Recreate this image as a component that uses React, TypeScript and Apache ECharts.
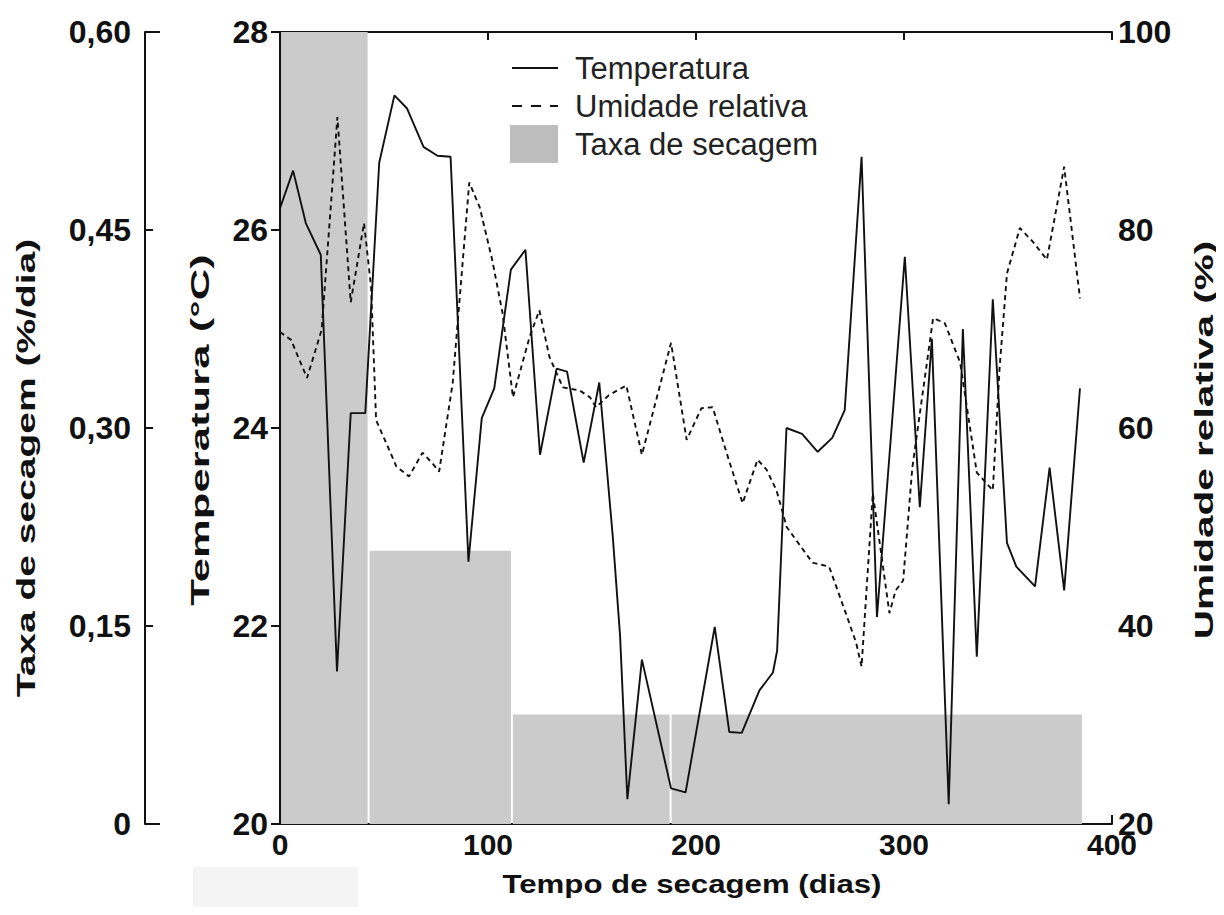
import React, { useEffect, useRef } from "react";
import * as echarts from "echarts";

// ---- Data ----
const xTicks = [0, 100, 200, 300, 400];

const tempDays = [0, 6.3, 12.4, 19.6, 27.4, 34, 41, 47.7, 55, 61, 69, 75.7, 82, 90.6, 97, 103, 111, 118, 125, 133, 138, 146, 153.5, 160, 163.5, 167, 174, 188, 195, 209, 216, 222, 230.5, 237, 239, 243.5, 251, 258.5, 265.5, 271.5, 279.6, 287, 300.4, 307.6, 313.4, 321.5, 328.3, 335, 342.7, 349.5, 354, 363, 370, 377, 384.6];
const tempValues = [26.22, 26.6, 26.07, 25.75, 21.54, 24.15, 24.15, 26.68, 27.36, 27.23, 26.84, 26.75, 26.74, 22.65, 24.1, 24.4, 25.6, 25.8, 23.73, 24.6, 24.57, 23.65, 24.46, 22.9, 21.9, 20.25, 21.66, 20.36, 20.32, 21.99, 20.93, 20.92, 21.35, 21.53, 21.75, 24.0, 23.94, 23.76, 23.9, 24.18, 26.74, 22.09, 25.73, 23.2, 24.9, 20.2, 25.0, 21.69, 25.3, 22.84, 22.6, 22.4, 23.6, 22.36, 24.4];

const humDays = [0, 5.3, 13, 20, 27.6, 34, 40.4, 43.8, 46.2, 52.5, 56, 62, 68.5, 73, 76.5, 83, 91, 96, 102, 107, 112, 120, 124.7, 129.5, 136, 144, 149, 152, 158, 166.5, 174, 188, 195.5, 202.6, 208, 214.7, 222.4, 229.6, 233.9, 238.7, 243.6, 256, 264, 272, 277, 279.6, 285, 293, 296, 299.6, 304, 314, 319.6, 327, 335, 342.7, 346, 349.5, 355.7, 362, 368.7, 377, 384.6];
const humValues = [69.7, 68.9, 65.05, 69.9, 91.4, 72.7, 80.7, 74.2, 60.8, 57.8, 56.1, 55.1, 57.5, 56.5, 55.6, 64.5, 84.8, 82.3, 77, 71.6, 63.1, 69.2, 71.9, 67.2, 64.1, 63.8, 63.1, 62.1, 63.3, 64.3, 57.3, 68.6, 58.8, 62, 62.1, 57.5, 52.4, 56.8, 55.8, 53.7, 50, 46.4, 46, 41.3, 38.3, 35.9, 53.4, 41.3, 43.6, 44.6, 56, 71.1, 70.6, 66.6, 55.5, 53.7, 66.2, 75.6, 80.2, 78.8, 77, 86.4, 73.1];

const rateStart = [0, 42.6, 111.5, 187.8];
const rateEnd = [42.6, 111.5, 187.8, 386];
const rateValues = [0.6, 0.207, 0.083, 0.083];

const FONT = '"Liberation Sans", Arial, sans-serif';
const INK = "#111";

export default function App() {
  const ref = useRef<HTMLDivElement>(null);

  useEffect(() => {
    if (!ref.current) return;
    const chart = echarts.init(ref.current, null, { renderer: "svg" });

    const tempData = tempDays.map((d, i) => [d, tempValues[i]]);
    const humData = humDays.map((d, i) => [d, humValues[i]]);
    const rateData = rateStart.map((s, i) => [s, rateEnd[i], rateValues[i]]);

    const axisLine = { show: true, lineStyle: { color: INK, width: 2 } };
    const tickLabel = { color: INK, fontFamily: FONT, fontWeight: "bold", fontSize: 32 };

    const titleText = (text: string, x: number, y: number, sx: number, rotate: boolean) => ({
      type: "text",
      x,
      y,
      rotation: rotate ? Math.PI / 2 : 0,
      scaleX: sx,
      scaleY: 1,
      silent: true,
      style: {
        text,
        fill: INK,
        font: `bold 26px ${FONT}`,
        fontFamily: FONT,
        fontWeight: "bold",
        fontSize: 26,
        align: "center",
        verticalAlign: "middle",
        textAlign: "center",
        textVerticalAlign: "middle",
      },
    });

    // legend geometry (icons for the two line items are drawn as graphic lines)
    const legLeft = 505;
    const legTop = 44;
    const legPad = 5;
    const itemW = 48;
    const itemH = 38;
    const rowY = (i: number) => legTop + legPad + itemH / 2 + i * itemH;

    const option: any = {
      animation: false,
      backgroundColor: "#ffffff",
      textStyle: { fontFamily: FONT },
      grid: { left: 280, right: 112, top: 32, bottom: 91, containLabel: false },
      legend: {
        show: true,
        orient: "vertical",
        left: legLeft,
        top: legTop,
        padding: legPad,
        itemWidth: itemW,
        itemHeight: itemH,
        itemGap: 0,
        selectedMode: false,
        textStyle: { fontSize: 31, color: "#222", fontFamily: FONT, padding: [0, 0, 0, 12] },
        data: [
          { name: "Temperatura", icon: "rect", itemStyle: { color: "rgba(0,0,0,0)", borderWidth: 0 } },
          { name: "Umidade relativa", icon: "rect", itemStyle: { color: "rgba(0,0,0,0)", borderWidth: 0 } },
          { name: "Taxa de secagem", icon: "rect", itemStyle: { color: "#bdbdbd", borderWidth: 0 } },
        ],
      },
      xAxis: [
        {
          type: "value",
          position: "bottom",
          min: xTicks[0],
          max: xTicks[xTicks.length - 1],
          interval: 100,
          axisLine,
          axisTick: { show: true, inside: true, length: 9, lineStyle: { color: INK, width: 2 } },
          axisLabel: { ...tickLabel, fontSize: 30, margin: 5 },
          splitLine: { show: false },
        },
        {
          type: "value",
          position: "top",
          min: xTicks[0],
          max: xTicks[xTicks.length - 1],
          interval: 100,
          axisLine,
          axisTick: { show: true, inside: true, length: 8, lineStyle: { color: INK, width: 2 } },
          axisLabel: { show: false },
          splitLine: { show: false },
        },
      ],
      yAxis: [
        {
          type: "value",
          position: "left",
          min: 20,
          max: 28,
          interval: 2,
          axisLine,
          axisTick: { show: true, inside: true, length: 9, lineStyle: { color: INK, width: 2 } },
          axisLabel: { ...tickLabel, margin: 12 },
          splitLine: { show: false },
        },
        {
          type: "value",
          position: "right",
          min: 20,
          max: 100,
          interval: 20,
          axisLine,
          axisTick: { show: true, inside: true, length: 9, lineStyle: { color: INK, width: 2 } },
          axisLabel: { ...tickLabel, margin: 6 },
          splitLine: { show: false },
        },
        {
          type: "value",
          position: "left",
          offset: 135,
          min: 0,
          max: 0.6,
          interval: 0.15,
          axisLine,
          axisTick: { show: true, inside: true, length: 8, lineStyle: { color: INK, width: 2 } },
          axisLabel: {
            ...tickLabel,
            margin: 14,
            formatter: (v: number) => (v === 0 ? "0" : v.toFixed(2).replace(".", ",")),
          },
          splitLine: { show: false },
        },
      ],
      graphic: [
        {
          type: "rect",
          left: 193,
          top: 867,
          shape: { width: 165, height: 45 },
          style: { fill: "#f4f4f4" },
          silent: true,
        },
        { type: "line", shape: { x1: 145, y1: 32, x2: 160, y2: 32 }, style: { stroke: INK, lineWidth: 2 }, silent: true },
        { type: "line", shape: { x1: 145, y1: 824, x2: 160, y2: 824 }, style: { stroke: INK, lineWidth: 2 }, silent: true },
        {
          type: "line",
          silent: true,
          z: 100,
          shape: { x1: legLeft + legPad + 2, y1: rowY(0), x2: legLeft + legPad + itemW, y2: rowY(0) },
          style: { stroke: INK, lineWidth: 2 },
        },
        {
          type: "line",
          silent: true,
          z: 100,
          shape: { x1: legLeft + legPad + 2, y1: rowY(1), x2: legLeft + legPad + itemW, y2: rowY(1) },
          style: { stroke: INK, lineWidth: 2, lineDash: [10, 9] },
        },
        titleText("Taxa de secagem (%/dia)", 26, 468, 1.5, true),
        titleText("Temperatura (°C)", 200, 430, 1.68, true),
        titleText("Umidade relativa (%)", 1204, 440, 1.56, true),
        titleText("Tempo de secagem (dias)", 692, 884, 1.2, false),
      ],
      series: [
        {
          name: "Taxa de secagem",
          type: "custom",
          xAxisIndex: 0,
          yAxisIndex: 2,
          z: 1,
          itemStyle: { color: "#cbcbcb" },
          encode: { x: [0, 1], y: 2 },
          renderItem: (params: any, api: any) => {
            const p0 = api.coord([api.value(0), api.value(2)]);
            const p1 = api.coord([api.value(1), 0]);
            return {
              type: "rect",
              shape: { x: p0[0] + 1, y: p0[1], width: p1[0] - p0[0] - 2, height: p1[1] - p0[1] },
              style: { fill: "#cbcbcb" },
            };
          },
          data: rateData,
        },
        {
          name: "Temperatura",
          type: "line",
          xAxisIndex: 0,
          yAxisIndex: 0,
          z: 3,
          symbol: "none",
          showSymbol: false,
          lineStyle: { color: INK, width: 1.9, type: "solid" },
          itemStyle: { color: INK },
          data: tempData,
        },
        {
          name: "Umidade relativa",
          type: "line",
          xAxisIndex: 0,
          yAxisIndex: 1,
          z: 3,
          symbol: "none",
          showSymbol: false,
          lineStyle: { color: INK, width: 1.9, type: [5, 4] },
          itemStyle: { color: INK },
          data: humData,
        },
      ],
    };

    chart.setOption(option);
    return () => chart.dispose();
  }, []);

  return <div ref={ref} style={{ width: 1224, height: 915, margin: -8 }} />;
}
